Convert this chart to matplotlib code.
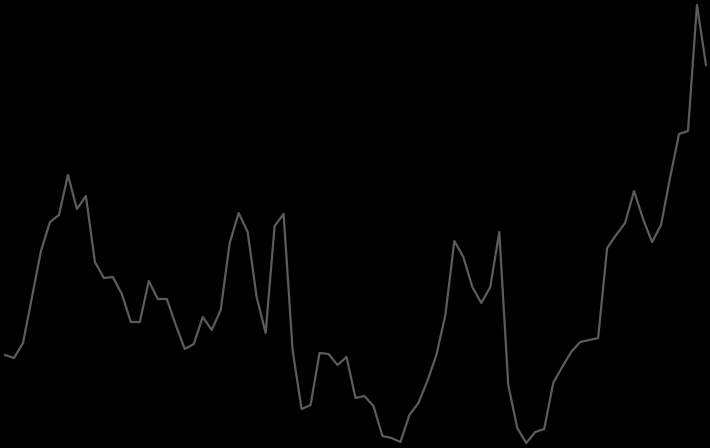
import matplotlib
matplotlib.use("Agg")
from matplotlib import pyplot as plt

# series values (higher = further up)
values = [93, 90, 105, 151, 197, 226, 233, 273, 239, 252,
          186, 170, 171, 154, 126, 126, 167, 149, 149, 123,
          99, 104, 131, 118, 138, 205, 235, 216, 151, 115,
          222, 234, 98, 39, 43, 95, 94, 83, 91, 50,
          52, 42, 12, 10, 6, 33, 45, 67, 93, 133,
          207, 191, 161, 145, 161, 216, 63, 20, 5, 16,
          19, 65, 81, 96, 106, 108, 110, 200, 213, 225,
          257, 229, 206, 223, 270, 314, 317, 443, 383]
index = list(range(len(values)))


def plot_line(index, values):
    fig = plt.figure(figsize=(7.1, 4.48), dpi=100, facecolor='black')
    ax = fig.add_axes([0, 0, 1, 1])
    ax.set_facecolor('black')
    ax.plot(index, values, color='#5c5c5c', linewidth=1.6, solid_joinstyle='round')
    ax.set_xlim(-0.56, len(values) - 1 + 0.45)
    ax.set_ylim(0, 448)
    ax.axis('off')
    fig.savefig('out.png', dpi=100, facecolor='black')


if __name__ == "__main__":
    plot_line(index, values)
